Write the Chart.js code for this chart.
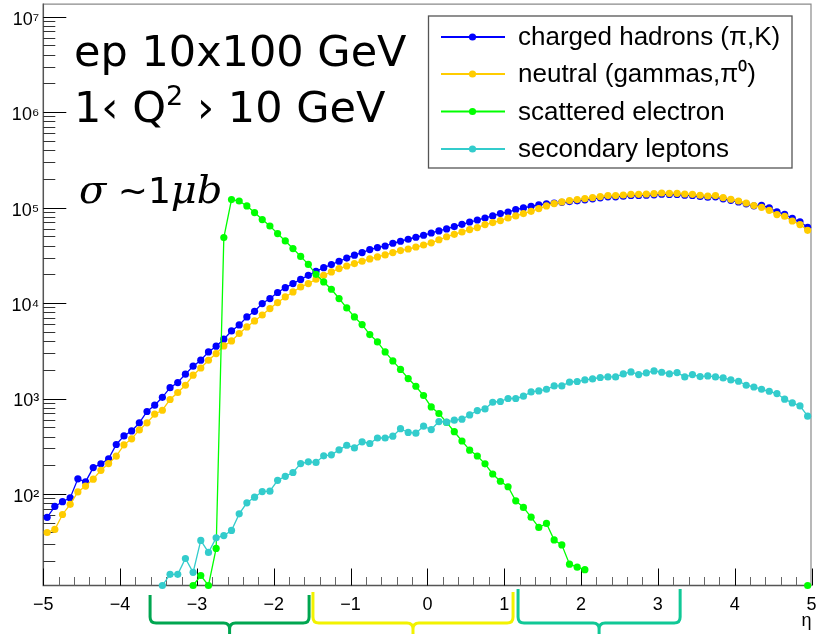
<!DOCTYPE html>
<html><head><meta charset="utf-8">
<script src="https://cdn.jsdelivr.net/npm/chart.js@4.4.1/dist/chart.umd.min.js"></script>
<style>html,body{margin:0;padding:0;background:#fff;overflow:hidden}#wrap{width:816px;height:634px}</style>
</head><body><div id="wrap"><canvas id="c" width="816" height="634"></canvas></div>
<script>
// ---- data (bin centers in eta, counts per bin) ----
const etaCenters = [-4.95,-4.85,-4.75,-4.65,-4.55,-4.45,-4.35,-4.25,-4.15,-4.05,
 -3.95,-3.85,-3.75,-3.65,-3.55,-3.45,-3.35,-3.25,-3.15,-3.05,
 -2.95,-2.85,-2.75,-2.65,-2.55,-2.45,-2.35,-2.25,-2.15,-2.05,
 -1.95,-1.85,-1.75,-1.65,-1.55,-1.45,-1.35,-1.25,-1.15,-1.05,
 -0.95,-0.85,-0.75,-0.65,-0.55,-0.45,-0.35,-0.25,-0.15,-0.05,
 0.05,0.15,0.25,0.35,0.45,0.55,0.65,0.75,0.85,0.95,
 1.05,1.15,1.25,1.35,1.45,1.55,1.65,1.75,1.85,1.95,
 2.05,2.15,2.25,2.35,2.45,2.55,2.65,2.75,2.85,2.95,
 3.05,3.15,3.25,3.35,3.45,3.55,3.65,3.75,3.85,3.95,
 4.05,4.15,4.25,4.35,4.45,4.55,4.65,4.75,4.85,4.95];

const chargedHadrons = [57,74,83,91,144,134,189,207,233,330,
 406,458,556,731,851,1030,1300,1470,1800,2180,
 2520,3080,3530,4180,5100,5900,7150,8200,9880,11150,
 12900,14500,16000,17700,19500,21500,23500,25300,27400,29600,
 31700,33800,36300,38100,39600,42300,44400,46600,48900,51300,
 54200,56900,59700,63200,66800,70600,74100,77800,81700,86500,
 89900,95300,99100,103200,107000,109700,111700,113600,115600,117800,
 120700,123600,126600,129700,129700,131500,133900,133900,134900,136100,
 138100,137100,137100,134900,133900,130600,128500,129700,123600,119200,
 114500,109600,104400,105700,99500,90400,85100,77300,70900,62200];

const neutralHadrons = [39.5,42.5,61,78,105,121,143,177,208,249,
 327,378,469,556,685,754,977,1156,1377,1754,
 2089,2517,2958,3556,4009,4797,5623,6501,7499,8750,
 10120,11590,13070,14750,16000,17750,19540,21180,22970,24430,
 25940,27420,28970,30410,31920,33810,35480,36810,38640,40550,
 42770,46010,49500,52500,55500,58840,61780,66400,69660,73100,
 77800,81700,86500,91400,97700,104000,110200,114500,118400,121300,
 124200,127300,130300,133600,133600,135500,137700,137700,138700,140200,
 142200,141200,141200,138700,137700,134600,132200,133600,127300,122200,
 117200,111700,105000,100700,93700,84500,81100,72400,66400,57800];

const scatteredElectron = [null,null,null,null,null,null,null,null,null,null,
 null,null,null,null,null,null,null,null,null,11,
 14,11,26.9,48500,121300,117200,104000,88700,74900,64100,
 53400,44700,37200,30800,25400,20000,16630,13950,11150,8890,
 7150,5950,4680,3920,3080,2476,2018,1619,1345,1075,
 816,697,562,449,359,288,250,207,162,136,
 119,84.7,72.4,57.2,44.6,49.2,33,29.3,18.4,17.1,
 16.1,null,null,null,null,null,null,null,null,null,
 null,null,null,null,null,null,null,null,null,null,
 null,null,null,null,null,null,null,null,null,11];

const secondaryLeptons = [null,null,null,null,null,null,null,null,null,null,
 null,null,null,null,null,11,14.4,14.4,21.1,15.1,
 32.6,24.4,34.7,36.7,41.5,61.9,80.8,92.5,106,107,
 139,153,168,208,217,214,251,257,290,324,
 304,352,338,386,386,403,483,441,434,513,
 473,574,565,593,607,673,748,778,914,931,
 1000,1000,1057,1172,1202,1250,1355,1355,1482,1507,
 1567,1603,1660,1683,1683,1811,1901,1782,1854,1945,
 1884,1811,1871,1683,1782,1698,1726,1683,1644,1567,
 1517,1377,1321,1250,1191,1127,984,899,837,653];

const seriesNames = ['charged hadrons (\u03C0,K)', 'neutral (gammas,\u03C0\u2070)', 'scattered electron', 'secondary leptons'];
const seriesColors = ['#0000ff', '#ffcc00', '#00ff00', '#33cccc'];
const yTickValues = [1e2, 1e3, 1e4, 1e5, 1e6, 1e7];
const yMin = 11, yMax = 1.37e7;
const xMin = -5, xMax = 5;
const braceRanges = [[-3.61, -1.54], [-1.49, 1.115], [1.18, 3.29]];
const braceColors = ['#00a650', '#f2f200', '#10c896'];

const sup = {'0':'\u2070','1':'\u00B9','2':'\u00B2','3':'\u00B3','4':'\u2074','5':'\u2075','6':'\u2076','7':'\u2077','8':'\u2078','9':'\u2079'};
const toPts = arr => etaCenters.map((x, i) => ({x: x, y: arr[i]}));
const noPad = s => { s.paddingTop = 0; s.paddingBottom = 0; s.paddingLeft = 0; s.paddingRight = 0; };

const decor = {
  id: 'decor',
  beforeDatasetsDraw(chart) {
    const {ctx, chartArea: a, scales: {x, y}} = chart;
    ctx.save();
    // frame
    ctx.strokeStyle = '#8a8a8a'; ctx.lineWidth = 1.2;
    ctx.beginPath();
    ctx.moveTo(a.left, a.top + 0.5); ctx.lineTo(a.right - 0.5, a.top + 0.5); ctx.lineTo(a.right - 0.5, a.bottom);
    ctx.stroke();
    // axes
    ctx.strokeStyle = '#555'; ctx.lineWidth = 1.5;
    ctx.beginPath();
    ctx.moveTo(a.left, a.top); ctx.lineTo(a.left, a.bottom); ctx.lineTo(a.right, a.bottom);
    ctx.stroke();
    // x ticks (inside)
    ctx.lineWidth = 1;
    for (let k = 0; k <= 50; k++) {
      const v = xMin + k * 0.2;
      const px = Math.round(x.getPixelForValue(v)) + 0.5;
      const major = (k % 5 === 0);
      ctx.strokeStyle = major ? '#000' : '#666';
      ctx.beginPath(); ctx.moveTo(px, a.bottom); ctx.lineTo(px, a.bottom - (major ? 17 : 8.5)); ctx.stroke();
    }
    // y ticks (inside)
    for (let e = 1; e <= 7; e++) {
      for (let m = 1; m <= 9; m++) {
        const v = m * Math.pow(10, e);
        if (v < yMin || v > yMax) continue;
        const py = Math.round(y.getPixelForValue(v)) + 0.5;
        ctx.strokeStyle = m === 1 ? '#000' : '#333';
        ctx.beginPath(); ctx.moveTo(a.left, py); ctx.lineTo(a.left + (m === 1 ? 23 : 12), py); ctx.stroke();
      }
    }
    ctx.restore();
  },
  afterDraw(chart) {
    const {ctx, scales: {x}} = chart;
    ctx.save();
    // legend
    const L = {l: 428.5, t: 16, r: 792, b: 168};
    ctx.fillStyle = '#fff'; ctx.fillRect(L.l, L.t, L.r - L.l, L.b - L.t);
    ctx.strokeStyle = '#555'; ctx.lineWidth = 1.3; ctx.strokeRect(L.l, L.t, L.r - L.l, L.b - L.t);
    const rows = [37, 74, 111.5, 149];
    ctx.font = '26px "Liberation Sans", Arial, sans-serif';
    ctx.textBaseline = 'middle'; ctx.textAlign = 'left';
    for (let i = 0; i < 4; i++) {
      ctx.strokeStyle = seriesColors[i]; ctx.lineWidth = 2;
      ctx.beginPath(); ctx.moveTo(441, rows[i]); ctx.lineTo(505, rows[i]); ctx.stroke();
      ctx.fillStyle = seriesColors[i];
      ctx.beginPath(); ctx.arc(472.5, rows[i], 3.6, 0, Math.PI * 2); ctx.fill();
      ctx.fillStyle = '#000';
      ctx.fillText(seriesNames[i], 518, rows[i] + 1);
    }
    // annotations
    ctx.textBaseline = 'alphabetic';
    ctx.fillStyle = '#000';
    ctx.font = '43px "DejaVu Sans", sans-serif';
    ctx.fillText('ep 10x100 GeV', 74, 66);
    let cx = 74;
    const seg = (t, f, dy) => { ctx.font = f; ctx.fillText(t, cx, 122 + (dy || 0)); cx += ctx.measureText(t).width; };
    seg('1\u2039 Q', '43px "DejaVu Sans", sans-serif');
    seg('2', '27px "DejaVu Sans", sans-serif', -17);
    seg(' \u203A 10 GeV', '43px "DejaVu Sans", sans-serif');
    cx = 79;
    const seg2 = (t, f) => { ctx.font = f; ctx.fillText(t, cx, 203); cx += ctx.measureText(t).width; };
    seg2('\u03C3', 'italic 40px "DejaVu Serif", serif');
    seg2(' ~1', '36px "DejaVu Sans", sans-serif');
    seg2('\u03BCb', 'italic 40px "DejaVu Serif", serif');
    // braces under the axis
    for (let i = 0; i < braceRanges.length; i++) {
      const x1 = x.getPixelForValue(braceRanges[i][0]), x2 = x.getPixelForValue(braceRanges[i][1]);
      const xc = (x1 + x2) / 2, yh = 623, r = 6, top = 595 - i * 3;
      ctx.strokeStyle = braceColors[i]; ctx.lineWidth = 3; ctx.lineCap = 'butt';
      ctx.beginPath();
      ctx.moveTo(x1, top); ctx.lineTo(x1, yh - r); ctx.quadraticCurveTo(x1, yh, x1 + r, yh);
      ctx.lineTo(xc - r, yh); ctx.quadraticCurveTo(xc, yh, xc, yh + r); ctx.lineTo(xc, 640);
      ctx.moveTo(xc, yh + r); ctx.quadraticCurveTo(xc, yh, xc + r, yh);
      ctx.lineTo(x2 - r, yh); ctx.quadraticCurveTo(x2, yh, x2, yh - r); ctx.lineTo(x2, top);
      ctx.stroke();
    }
    ctx.restore();
  }
};

const mk = (i, arr, order) => ({
  label: seriesNames[i], data: toPts(arr), borderColor: seriesColors[i], backgroundColor: seriesColors[i],
  borderWidth: 1.3, pointRadius: 3.6, pointHoverRadius: 3.6, pointBorderWidth: 0, pointStyle: 'circle',
  spanGaps: false, clip: false, order: order, tension: 0
});

new Chart(document.getElementById('c'), {
  type: 'line',
  data: { datasets: [mk(0, chargedHadrons, 3), mk(1, neutralHadrons, 2), mk(2, scatteredElectron, 1), mk(3, secondaryLeptons, 0)] },
  options: {
    responsive: false, animation: false, devicePixelRatio: 1,
    layout: { padding: { top: 3, right: 4.5, left: 0, bottom: 0 } },
    plugins: { legend: { display: false }, tooltip: { enabled: false } },
    scales: {
      x: {
        type: 'linear', min: xMin, max: xMax,
        grid: { display: false, drawTicks: false }, border: { display: false },
        ticks: { stepSize: 1, padding: 9, color: '#000', font: { family: '"Liberation Sans", Arial, sans-serif', size: 18 },
                 callback: v => String(v).replace('-', '\u2212') },
        title: { display: true, text: '\u03B7', align: 'end', color: '#000', font: { family: '"Liberation Sans", Arial, sans-serif', size: 18 }, padding: { top: 0, bottom: 2 } },
        afterFit: s => { s.height = 48.5; noPad(s); }
      },
      y: {
        type: 'logarithmic', min: yMin, max: yMax,
        grid: { display: false, drawTicks: false }, border: { display: false },
        afterBuildTicks: s => { s.ticks = yTickValues.map(v => ({ value: v })); },
        ticks: { padding: 4, labelOffset: 3, color: '#000', font: { family: '"Liberation Sans", Arial, sans-serif', size: 18 },
                 callback: v => '10' + String(Math.round(Math.log10(v))).split('').map(c => sup[c]).join('') },
        afterFit: s => { s.width = 43.3; noPad(s); }
      }
    }
  },
  plugins: [decor]
});
</script>
</body></html>
